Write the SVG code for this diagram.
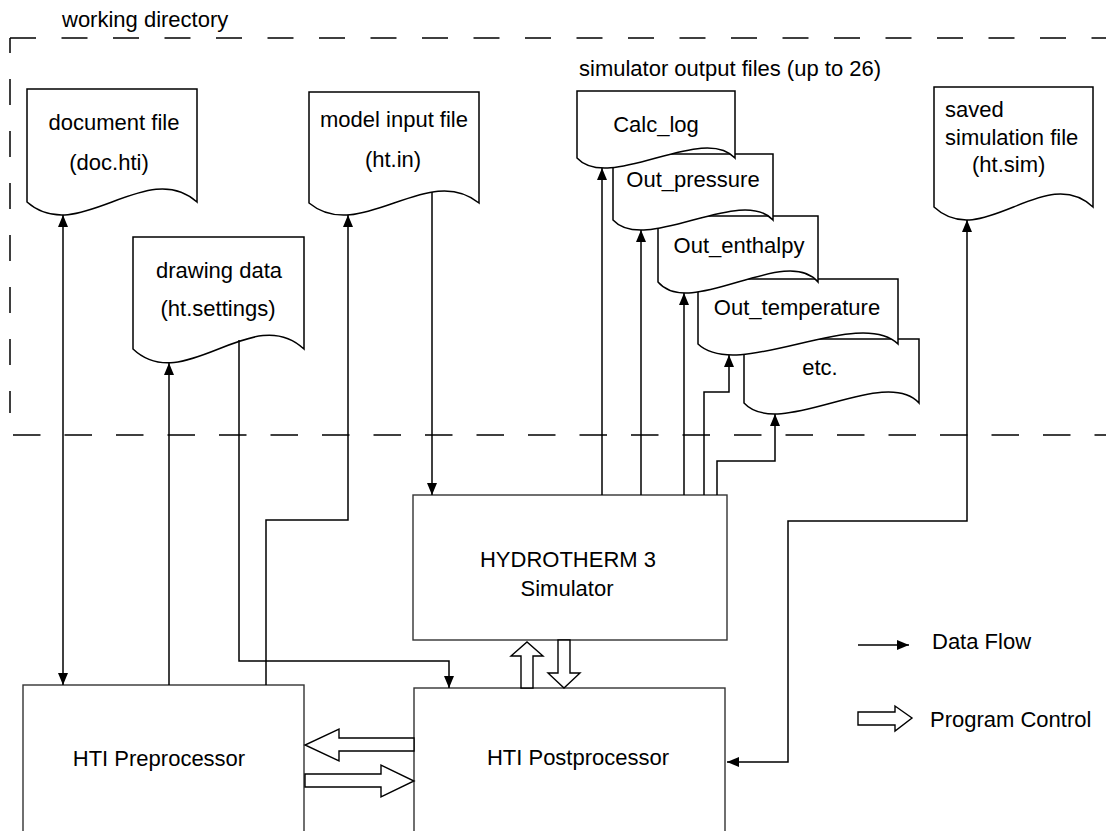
<svg xmlns="http://www.w3.org/2000/svg" width="1106" height="831" viewBox="0 0 1106 831">
<style>
text{font-family:"Liberation Sans",Arial,sans-serif;font-size:22px;fill:#000}
.c{text-anchor:middle}
.doc{fill:#fff;stroke:#000;stroke-width:1.5}
.box{fill:#fff;stroke:#333;stroke-width:1.4}
.ln{fill:none;stroke:#000;stroke-width:1.5}
.bd{fill:none;stroke:#000;stroke-width:1.5}
.ho{fill:#fff;stroke:#000;stroke-width:1.4;stroke-linejoin:miter}
</style>
<defs>
<marker id="a" viewBox="0 0 12 10" refX="12" refY="5" markerWidth="12" markerHeight="10" markerUnits="userSpaceOnUse" orient="auto-start-reverse"><path d="M0,0 L12,5 L0,10 Z" fill="#000"/></marker>
</defs>
<rect width="1106" height="831" fill="#fff"/>
<g id="working-directory">
<path class="bd" d="M10,38 H1106" stroke-dasharray="26 25.5"/>
<path class="bd" d="M10,38 V413" stroke-dasharray="26 26" stroke-dashoffset="11"/>
<path class="bd" d="M13,435 H1106" stroke-dasharray="27.5 24"/>
<text x="62" y="27">working directory</text>
</g>
<g id="doc-hti">
<path class="doc" d="M27,89 H197 V202 C146,157 78,247 27,202 Z"/>
<text class="c" x="114" y="130">document file</text>
<text class="c" x="109" y="170">(doc.hti)</text>
</g>
<g id="ht-in">
<path class="doc" d="M309,92 H479 V203 C428,161 360,245 309,203 Z"/>
<text class="c" x="394" y="127">model input file</text>
<text class="c" x="393" y="167">(ht.in)</text>
</g>
<g id="ht-settings">
<path class="doc" d="M133,237 H304 V349 C253,301 184,397 133,349 Z"/>
<text class="c" x="219" y="278">drawing data</text>
<text class="c" x="218" y="316">(ht.settings)</text>
</g>
<g id="output-files">
<text x="579" y="76">simulator output files (up to 26)</text>
<g id="etc">
<path class="doc" d="M744,339 H919 V403 C884,365 779,441 744,403 Z"/>
<text class="c" x="820" y="375">etc.</text>
</g>
<g id="out-temperature">
<path class="doc" d="M698,279 H898 V344 C858,306 738,382 698,344 Z"/>
<text class="c" x="797" y="315">Out_temperature</text>
</g>
<g id="out-enthalpy">
<path class="doc" d="M658,216 H818 V282 C786,244 690,320 658,282 Z"/>
<text class="c" x="739" y="253">Out_enthalpy</text>
</g>
<g id="out-pressure">
<path class="doc" d="M613,154 H773 V220 C741,185 645,255 613,220 Z"/>
<text class="c" x="693" y="187">Out_pressure</text>
</g>
<g id="calc-log">
<path class="doc" d="M577,91 H735 V158 C703,123 609,193 577,158 Z"/>
<text class="c" x="656" y="132">Calc_log</text>
</g>
</g>
<g id="ht-sim">
<path class="doc" d="M934,87 H1093 V207 C1045,162 982,252 934,207 Z"/>
<text x="945" y="117">saved</text>
<text x="945" y="145">simulation file</text>
<text x="972" y="172">(ht.sim)</text>
</g>
<g id="simulator">
<rect class="box" x="413" y="495" width="314" height="145"/>
<text class="c" x="568" y="567">HYDROTHERM 3</text>
<text class="c" x="567" y="596">Simulator</text>
</g>
<g id="preprocessor">
<rect class="box" x="23" y="685" width="281" height="170"/>
<text class="c" x="159" y="766">HTI Preprocessor</text>
</g>
<g id="postprocessor">
<rect class="box" x="414" y="688" width="311" height="170"/>
<text class="c" x="578" y="765">HTI Postprocessor</text>
</g>
<g id="connectors">
<path class="ln" d="M63,215 V685" marker-start="url(#a)" marker-end="url(#a)"/>
<path class="ln" d="M169,685 V363" marker-end="url(#a)"/>
<path class="ln" d="M266,685 V520 H348 V215" marker-end="url(#a)"/>
<path class="ln" d="M432,192 V495" marker-end="url(#a)"/>
<path class="ln" d="M239,340 V661 H449 V688" marker-end="url(#a)"/>
<path class="ln" d="M602,495 V168" marker-end="url(#a)"/>
<path class="ln" d="M641,495 V230" marker-end="url(#a)"/>
<path class="ln" d="M684,495 V293" marker-end="url(#a)"/>
<path class="ln" d="M704,495 V392 H729 V355" marker-end="url(#a)"/>
<path class="ln" d="M717,495 V461 H775 V414" marker-end="url(#a)"/>
<path class="ln" d="M727,762 H788 V521 H967 V220" marker-start="url(#a)" marker-end="url(#a)"/>
<polygon class="ho" points="521,688 521,656 511,656 527,642 543,656 533,656 533,688"/>
<polygon class="ho" points="558,640 558,673 548,673 564,688 580,673 570,673 570,640"/>
<polygon class="ho" points="414,738 339,738 339,729 305,745 339,761 339,751 414,751"/>
<polygon class="ho" points="305,774 381,774 381,765 414,781 381,797 381,787 305,787"/>
</g>
<g id="legend">
<path class="ln" d="M858,645 H909" marker-end="url(#a)"/>
<text x="932" y="649">Data Flow</text>
<polygon class="ho" points="858,712 895,712 895,706 912,718 895,731 895,725 858,725"/>
<text x="930" y="727">Program Control</text>
</g>
</svg>
